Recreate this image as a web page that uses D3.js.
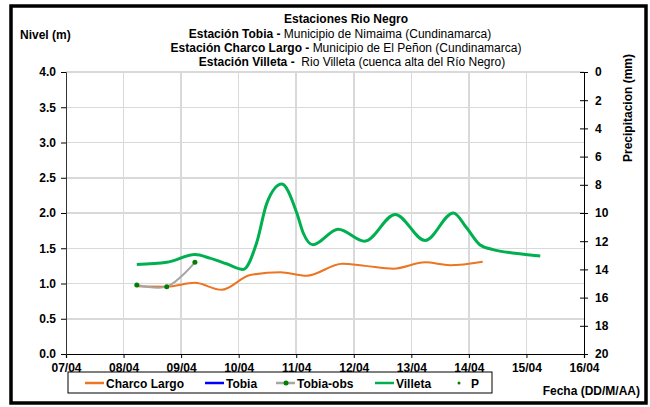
<!DOCTYPE html>
<meta charset="utf-8">
<style>
    body { margin: 0; background: #fff; }
    text { font-family: "Liberation Sans", Arial, sans-serif; fill: #000; }
    .axis text { font-size: 12px; font-weight: bold; }
    .grid line { stroke: #d9d9d9; stroke-width: 1.5px; shape-rendering: crispEdges; }
</style>
<body>
<svg width="650" height="407"></svg>
<script src="https://d3js.org/d3.v7.min.js"></script>
<script>
// fechas en dias (07/04 = 7)
var dateTicks = [7, 8, 9, 10, 11, 12, 13, 14, 15, 16];
var dateLabels = ["07/04", "08/04", "09/04", "10/04", "11/04", "12/04", "13/04", "14/04", "15/04", "16/04"];
var nivelTicks = [0, 0.5, 1, 1.5, 2, 2.5, 3, 3.5, 4];
var precTicks = [0, 2, 4, 6, 8, 10, 12, 14, 16, 18, 20];

var charcoDays = [8.23, 8.75, 9.24, 9.70, 10.20, 10.72, 11.18, 11.80, 12.20, 12.69, 13.24, 13.67, 14.24];
var charcoVals = [0.96, 0.955, 1.01, 0.91, 1.12, 1.16, 1.11, 1.28, 1.25, 1.21, 1.30, 1.26, 1.31];

var villetaDays = [8.23, 8.75, 9.24, 9.50, 9.79, 10.08, 10.31, 10.49, 10.75, 11.01, 11.12, 11.29, 11.73, 12.19, 12.72, 13.24, 13.73, 13.96, 14.19, 14.42, 14.80, 15.24];
var villetaVals = [1.27, 1.30, 1.41, 1.36, 1.28, 1.20, 1.57, 2.14, 2.41, 2.00, 1.72, 1.55, 1.77, 1.60, 1.98, 1.61, 2.00, 1.79, 1.55, 1.48, 1.43, 1.39];

var obsDays = [8.23, 8.75, 9.24];
var obsVals = [0.98, 0.955, 1.30];

var tobiaDays = [];
var tobiaVals = [];
var pDays = [];
var pVals = [];

var svg = d3.select("svg");
var margin = { top: 72, right: 66, bottom: 53, left: 66 };
var width = 650 - margin.left - margin.right,
    height = 407 - margin.top - margin.bottom;

svg.append("rect")
    .attr("x", 11).attr("y", 6).attr("width", 635).attr("height", 397)
    .attr("fill", "none").attr("stroke", "#000").attr("stroke-width", 3.5);

var x = d3.scaleLinear().domain([7, 16]).range([0, width]);
var y = d3.scaleLinear().domain([0, 4]).range([height, 0]);
var y2 = d3.scaleLinear().domain([0, 20]).range([0, height]);

var g = svg.append("g").attr("transform", "translate(" + margin.left + "," + margin.top + ")");

// cuadricula
g.append("g").attr("class", "grid")
    .selectAll("line").data(nivelTicks.slice(1)).enter().append("line")
    .attr("x1", 0).attr("x2", width)
    .attr("y1", function (d) { return y(d); }).attr("y2", function (d) { return y(d); });
g.append("g").attr("class", "grid")
    .selectAll("line").data(dateTicks.slice(1, -1)).enter().append("line")
    .attr("y1", 0).attr("y2", height)
    .attr("x1", function (d) { return x(d); }).attr("x2", function (d) { return x(d); });

// ejes
var ax = g.append("g").attr("class", "axis")
    .attr("transform", "translate(0," + height + ")")
    .call(d3.axisBottom(x).tickValues(dateTicks).tickSize(4).tickPadding(5)
        .tickFormat(function (d, i) { return dateLabels[i]; }));
ax.select(".domain").attr("stroke-width", 1.2);

var ay = g.append("g").attr("class", "axis")
    .call(d3.axisLeft(y).tickValues(nivelTicks).tickSize(5).tickPadding(5).tickFormat(d3.format(".1f")));
ay.select(".domain").attr("stroke", "#333");

var ay2 = g.append("g").attr("class", "axis")
    .attr("transform", "translate(" + width + ",0)")
    .call(d3.axisRight(y2).tickValues(precTicks).tickSize(4).tickPadding(7));
ay2.selectAll(".tick line").attr("x1", -4);

// series
function pts(days, vals) {
    return days.map(function (d, i) { return [d, vals[i]]; });
}
var line = d3.line().x(function (d) { return x(d[0]); }).y(function (d) { return y(d[1]); })
    .curve(d3.curveMonotoneX);
var lineObs = d3.line().x(function (d) { return x(d[0]); }).y(function (d) { return y(d[1]); })
    .curve(d3.curveCatmullRom);

g.append("path").datum(pts(charcoDays, charcoVals))
    .attr("fill", "none").attr("stroke", "#ED7420").attr("stroke-width", 2).attr("d", line);
g.append("path").datum(pts(tobiaDays, tobiaVals))
    .attr("fill", "none").attr("stroke", "#0000FF").attr("stroke-width", 2).attr("d", line);
g.append("path").datum(pts(obsDays, obsVals))
    .attr("fill", "none").attr("stroke", "#A6A6A6").attr("stroke-width", 2).attr("d", lineObs);
g.selectAll(".obs").data(pts(obsDays, obsVals)).enter().append("circle")
    .attr("cx", function (d) { return x(d[0]); }).attr("cy", function (d) { return y(d[1]); })
    .attr("r", 2.5).attr("fill", "#008000");
g.append("path").datum(pts(villetaDays, villetaVals))
    .attr("fill", "none").attr("stroke", "#00B050").attr("stroke-width", 3).attr("d", line);
g.selectAll(".p").data(pts(pDays, pVals)).enter().append("circle")
    .attr("cx", function (d) { return x(d[0]); }).attr("cy", function (d) { return y2(d[1]); })
    .attr("r", 1.5).attr("fill", "#008000");

// titulos
var tt = svg.append("text").attr("text-anchor", "middle").style("font-size", "12px");
tt.append("tspan").attr("x", 346).attr("y", 23).style("font-weight", "bold").text("Estaciones Rio Negro");
var l2 = svg.append("text").attr("text-anchor", "middle").attr("x", 340).attr("y", 38).style("font-size", "12px");
l2.append("tspan").style("font-weight", "bold").text("Estación Tobia - ");
l2.append("tspan").text("Municipio de Nimaima (Cundinamarca)");
var l3 = svg.append("text").attr("text-anchor", "middle").attr("x", 346).attr("y", 52).style("font-size", "12px");
l3.append("tspan").style("font-weight", "bold").text("Estación Charco Largo - ");
l3.append("tspan").text("Municipio de El Peñon (Cundinamarca)");
var l4 = svg.append("text").attr("text-anchor", "middle").attr("x", 352).attr("y", 66).style("font-size", "12px");
l4.append("tspan").style("font-weight", "bold").text("Estación Villeta - ");
l4.append("tspan").text("\u00a0Rio Villeta (cuenca alta del Río Negro)");

svg.append("text").attr("x", 20).attr("y", 39).style("font-size", "12px").style("font-weight", "bold").text("Nivel (m)");
svg.append("text").attr("transform", "translate(632,108) rotate(-90)").attr("text-anchor", "middle")
    .style("font-size", "12px").style("font-weight", "bold").text("Precipitacion (mm)");
svg.append("text").attr("x", 640).attr("y", 395).attr("text-anchor", "end")
    .style("font-size", "12px").style("font-weight", "bold").text("Fecha (DD/M/AA)");

// leyenda
var legend = svg.append("g");
legend.append("rect").attr("x", 68).attr("y", 372).attr("width", 424).attr("height", 21)
    .attr("fill", "#fff").attr("stroke", "#000").attr("stroke-width", 1);
var items = [
    { name: "Charco Largo", color: "#ED7420", x: 85, type: "line" },
    { name: "Tobia", color: "#0000FF", x: 205, type: "line" },
    { name: "Tobia-obs", color: "#A6A6A6", x: 276, type: "obs" },
    { name: "Villeta", color: "#00B050", x: 375, type: "line" },
    { name: "P", color: "#008000", x: 455, type: "dot" }
];
items.forEach(function (it) {
    var ly = 383;
    if (it.type != "dot") {
        legend.append("line").attr("x1", it.x).attr("x2", it.x + 19).attr("y1", ly).attr("y2", ly)
            .attr("stroke", it.color).attr("stroke-width", 2.5);
    }
    if (it.type != "line") {
        legend.append("circle").attr("cx", it.type == "dot" ? it.x + 4 : it.x + 10).attr("cy", ly)
            .attr("r", it.type == "dot" ? 1.5 : 2.5).attr("fill", "#008000");
    }
    legend.append("text").attr("x", it.type == "dot" ? it.x + 16 : it.x + 21).attr("y", ly + 4.5)
        .style("font-size", "12px").style("font-weight", "bold").text(it.name);
});
</script>
</body>
